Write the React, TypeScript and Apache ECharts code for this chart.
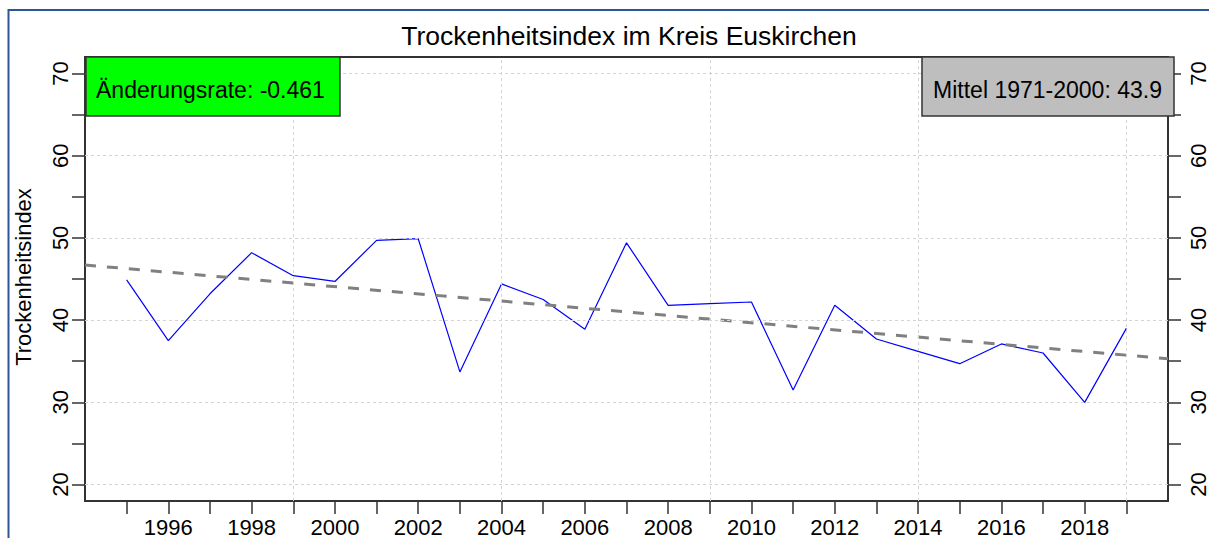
import React, { useEffect, useRef } from "react";
import * as echarts from "echarts";

// ---- data ----
const years = [
  1995, 1996, 1997, 1998, 1999, 2000, 2001, 2002, 2003, 2004, 2005, 2006, 2007,
  2008, 2009, 2010, 2011, 2012, 2013, 2014, 2015, 2016, 2017, 2018, 2019,
];
const dryIndex = [
  44.9, 37.5, 43.2, 48.2, 45.4, 44.7, 49.7, 49.9, 33.7, 44.4, 42.5, 38.9, 49.4,
  41.8, 42.0, 42.2, 31.5, 41.8, 37.7, 36.2, 34.7, 37.1, 36.0, 30.0, 39.0,
];
const trendYears = [1994, 2020];
const trendValues = [46.7, 35.3];

const xLabelYears = [1996, 1998, 2000, 2002, 2004, 2006, 2008, 2010, 2012, 2014, 2016, 2018];
const yTickValues = [20, 25, 30, 35, 40, 45, 50, 55, 60, 65, 70];
const yLabelValues = [20, 30, 40, 50, 60, 70];
const xGridYears = [1999, 2004, 2009, 2014, 2019];
const yGridValues = [20, 30, 40, 50, 60, 70];

const titleText = "Trockenheitsindex im Kreis Euskirchen";
const yAxisTitle = "Trockenheitsindex";
const rateText = "Änderungsrate: -0.461";
const meanText = "Mittel 1971-2000: 43.9";

const FONT = "'Liberation Sans', Arial, sans-serif";

export default function App() {
  const ref = useRef<HTMLDivElement>(null);

  useEffect(() => {
    if (!ref.current) return;
    const chart = echarts.init(ref.current, null, { renderer: "svg" });

    const yAxisCommon = {
      type: "value" as const,
      min: 18,
      max: 72,
      axisLine: { show: false },
      splitLine: { show: false },
      axisTick: {
        show: true,
        customValues: yTickValues,
        length: 13,
        lineStyle: { color: "#333", width: 1.5 },
      },
    };

    const option: any = {
      animation: false,
      backgroundColor: "#ffffff",
      textStyle: { fontFamily: FONT },
      grid: {
        left: 85,
        right: 35,
        top: 57,
        bottom: 36,
        show: true,
        borderColor: "#333",
        borderWidth: 2,
        backgroundColor: "transparent",
        containLabel: false,
      },
      xAxis: {
        type: "value",
        min: 1994,
        max: 2020,
        axisLine: { show: false },
        splitLine: { show: false },
        axisTick: {
          show: true,
          customValues: years,
          length: 13,
          lineStyle: { color: "#333", width: 1.5 },
        },
        axisLabel: {
          customValues: xLabelYears,
          fontSize: 22,
          color: "#000",
          fontFamily: FONT,
          margin: 15,
          formatter: (v: number) => String(v),
        },
      },
      yAxis: [
        {
          ...yAxisCommon,
          position: "left",
          axisLabel: {
            customValues: yLabelValues,
            rotate: 90,
            fontSize: 22,
            color: "#000",
            fontFamily: FONT,
            margin: 14,
          },
        },
        {
          ...yAxisCommon,
          position: "right",
          axisLabel: {
            customValues: yLabelValues,
            rotate: 90,
            fontSize: 22,
            color: "#000",
            fontFamily: FONT,
            margin: 19,
          },
        },
      ],
      series: [
        {
          type: "line",
          data: [],
          z: 1,
          silent: true,
          markLine: {
            silent: true,
            symbol: ["none", "none"],
            label: { show: false },
            lineStyle: { color: "#d3d3d3", type: [3, 3], width: 1 },
            data: [
              ...yGridValues.map((v) => ({ yAxis: v })),
              ...xGridYears.map((v) => ({ xAxis: v })),
            ],
          },
        },
        {
          type: "line",
          name: "Trockenheitsindex",
          data: years.map((y, i) => [y, dryIndex[i]]),
          showSymbol: false,
          symbol: "none",
          z: 3,
          lineStyle: { color: "#0000ff", width: 1.2 },
        },
        {
          type: "line",
          name: "Trend",
          data: trendYears.map((y, i) => [y, trendValues[i]]),
          showSymbol: false,
          symbol: "none",
          z: 4,
          lineStyle: { color: "#808080", width: 3, type: [11, 11] },
        },
      ],
      graphic: [
        {
          type: "polyline",
          shape: { points: [[8.5, 538], [8.5, 10], [1209, 10]] },
          style: { stroke: "#2e5596", lineWidth: 2, fill: "none" },
          z: 10,
        },
        {
          type: "text",
          x: 629,
          y: 36,
          style: {
            text: titleText,
            fontSize: 26.5,
            fontFamily: FONT,
            fill: "#000",
            textAlign: "center",
            textVerticalAlign: "middle",
          },
        },
        {
          type: "text",
          x: 23,
          y: 277,
          rotation: Math.PI / 2,
          style: {
            text: yAxisTitle,
            fontSize: 22,
            fontFamily: FONT,
            fill: "#000",
            textAlign: "center",
            textVerticalAlign: "middle",
          },
        },
        {
          type: "rect",
          shape: { x: 86, y: 57, width: 254, height: 59 },
          style: { fill: "#00ff00", stroke: "#333", lineWidth: 1.5 },
          z: 20,
        },
        {
          type: "text",
          x: 96,
          y: 90,
          z: 21,
          style: {
            text: rateText,
            fontSize: 23,
            fontFamily: FONT,
            fill: "#000",
            textAlign: "left",
            textVerticalAlign: "middle",
          },
        },
        {
          type: "rect",
          shape: { x: 922, y: 57, width: 252, height: 59 },
          style: { fill: "#bebebe", stroke: "#333", lineWidth: 1.5 },
          z: 20,
        },
        {
          type: "text",
          x: 1047.5,
          y: 90,
          z: 21,
          style: {
            text: meanText,
            fontSize: 23,
            fontFamily: FONT,
            fill: "#000",
            textAlign: "center",
            textVerticalAlign: "middle",
          },
        },
      ],
    };

    chart.setOption(option);
    return () => chart.dispose();
  }, []);

  return (
    <div
      ref={ref}
      style={{ position: "fixed", left: 0, top: 0, width: 1209, height: 538, background: "#fff" }}
    />
  );
}
